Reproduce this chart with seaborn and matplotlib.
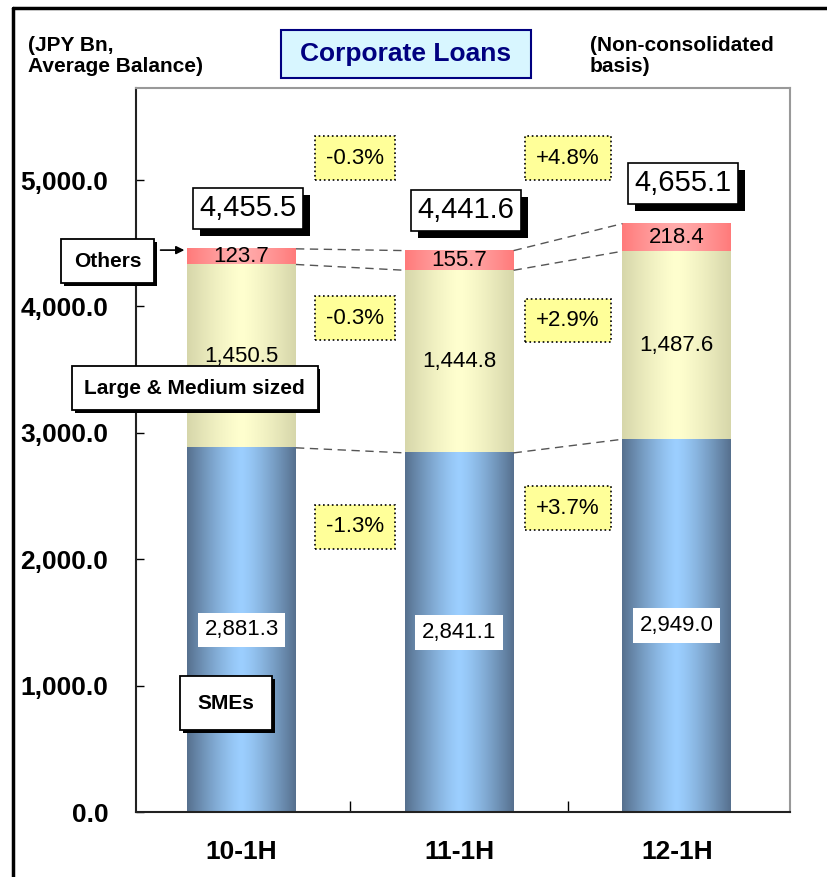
import numpy as np
import pandas as pd
import matplotlib.pyplot as plt
import seaborn as sns
from matplotlib.lines import Line2D
from matplotlib.patches import Rectangle
import matplotlib.patheffects as pe

# --- data ---
periods = ['10-1H', '11-1H', '12-1H']
smes = [2881.3, 2841.1, 2949.0]
large_medium = [1450.5, 1444.8, 1487.6]
others = [123.7, 155.7, 218.4]
totals = [4455.5, 4441.6, 4655.1]
chg_total = ['-0.3%', '+4.8%']
chg_large = ['-0.3%', '+2.9%']
chg_smes = ['-1.3%', '+3.7%']
y_ticks = [0, 1000, 2000, 3000, 4000, 5000]

sns.set_theme(style='white')
plt.rcParams['font.family'] = ['Liberation Sans', 'DejaVu Sans']
plt.rcParams['text.color'] = 'black'
plt.rcParams['xtick.color'] = 'black'
plt.rcParams['ytick.color'] = 'black'

df = pd.DataFrame({'period': periods, 'smes': smes, 'large': large_medium, 'others': others})
df['top_large'] = df['smes'] + df['large']
df['top_all'] = df['top_large'] + df['others']

W, H = 827, 877
fig = plt.figure(figsize=(W / 100, H / 100), dpi=100)
ax = fig.add_axes([136 / W, 1 - 812 / H, 654 / W, 724 / H])


def fx(x):
    return x / W


def fy(y):
    return 1 - y / H


def hgrad(edge, mid, n=200):
    e = np.array(plt.matplotlib.colors.to_rgb(edge))
    m = np.array(plt.matplotlib.colors.to_rgb(mid))
    t = np.linspace(0, 1, n)
    w = 1 - np.abs(2 * t - 1) ** 1.3
    return (e[None, :] * (1 - w[:, None]) + m[None, :] * w[:, None])[None, :, :]


def shadow(txt, d):
    # drop shadow under the text's box
    txt.get_bbox_patch().set_path_effects([
        pe.SimplePatchShadow(offset=(d, -d), shadow_rgbFace='black', alpha=1.0), pe.Normal()])


# stacked bars drawn as cumulative layers, then shaded with a gradient
layers = [('top_all', '#ff7a7a', '#ffacac'),
          ('top_large', '#d6d6aa', '#ffffcf'),
          ('smes', '#56708e', '#9ccfff')]
for k, (col, edge, mid) in enumerate(layers):
    n0 = len(ax.patches)
    sns.barplot(data=df, x='period', y=col, color=mid, width=0.5, saturation=1,
                linewidth=0, ax=ax)
    img = hgrad(edge, mid)
    for p in ax.patches[n0:]:
        ax.imshow(img, extent=(p.get_x(), p.get_x() + p.get_width(), 0, p.get_height()),
                  aspect='auto', zorder=1.1 + k * 0.1, interpolation='bilinear')

ax.set_xlim(-0.485, 2.52)
ax.set_ylim(0, 5728)
ax.set_xlabel('')
ax.set_ylabel('')

# dashed connectors between bars
for levels in [df['top_all'], df['top_large'], df['smes']]:
    for i in range(2):
        ax.plot([i + 0.25, i + 0.75], [levels[i], levels[i + 1]], ls=(0, (6, 4)),
                color='#555555', lw=1, zorder=2)

# axes styling
ax.set_yticks(y_ticks)
ax.set_yticklabels([f'{v:,.1f}' for v in y_ticks], fontsize=19, fontweight='bold')
ax.tick_params(axis='y', direction='in', length=6, width=1, pad=20, left=True)
ax.set_xticks([0, 1, 2])
ax.set_xticklabels(periods, fontsize=19, fontweight='bold')
ax.tick_params(axis='x', which='major', length=0, pad=20)
ax.set_xticks([0.5, 1.5], minor=True)
ax.tick_params(axis='x', which='minor', direction='in', length=8, width=1, bottom=True)
for s in ['left', 'bottom']:
    ax.spines[s].set_color('#222222')
    ax.spines[s].set_linewidth(1.5)
for s in ['top', 'right']:
    ax.spines[s].set_color('#999999')
    ax.spines[s].set_linewidth(1.5)

# segment value labels
for i in range(3):
    ax.text(i, df['top_large'][i] + others[i] / 2, f'{others[i]:,.1f}', ha='center', va='center',
            fontsize=16, zorder=5)
    ax.text(i, smes[i] + large_medium[i] / 2, f'{large_medium[i]:,.1f}', ha='center', va='center',
            fontsize=16, zorder=5)
    ax.text(i, smes[i] / 2, f'{smes[i]:,.1f}', ha='center', va='center', fontsize=16, zorder=5,
            bbox=dict(boxstyle='square,pad=0.3', fc='white', ec='none'))

# total boxes with drop shadow
for i in range(3):
    t = ax.text(i + 0.03, totals[i] + 320, f'{totals[i]:,.1f}', ha='center', va='center',
                fontsize=21, zorder=6,
                bbox=dict(boxstyle='square,pad=0.22', fc='white', ec='black', lw=1.2))
    shadow(t, 5)

# percentage change boxes
chg_x = [0.52, 1.5]
rows = [(chg_total, [5174, 5174]), (chg_large, [3908, 3890]), (chg_smes, [2255, 2405])]
for labels, ys in rows:
    for j in range(2):
        ax.text(chg_x[j], ys[j], labels[j], ha='center', va='center', fontsize=16, zorder=6,
                bbox=dict(boxstyle='square,pad=0.5', fc='#ffff99', ec='black', lw=1.2, ls=':'))

# series name boxes
name_boxes = [(-0.615, 261, 'Others', 0.6), (-0.215, 388, 'Large & Medium sized', 0.6),
              (-0.07, 703, 'SMEs', 0.85)]
for x, ypix, label, pw in name_boxes:
    t = ax.text(x, (812 - ypix) / 0.12643, label, ha='center', va='center', fontsize=15,
                fontweight='bold', zorder=7, clip_on=False,
                bbox=dict(boxstyle=f'square,pad={pw}', fc='white', ec='black', lw=1.3))
    shadow(t, 2)
ax.annotate('', xy=(-0.25, totals[0] - 10), xytext=(-0.385, totals[0] - 10),
            arrowprops=dict(arrowstyle='-|>', color='black', lw=1.2), zorder=7,
            annotation_clip=False)

# header texts
fig.text(fx(28), fy(56), '(JPY Bn,\nAverage Balance)', ha='left', va='center', fontsize=15,
         fontweight='bold', linespacing=1.15)
fig.text(fx(590), fy(56), '(Non-consolidated\nbasis)', ha='left', va='center', fontsize=15,
         fontweight='bold', linespacing=1.15)
fig.add_artist(Rectangle((fx(281), fy(78)), fx(250), 48 / H, transform=fig.transFigure,
                         fc='#d8f6ff', ec='#000080', lw=1.5))
fig.text(fx(406), fy(54), 'Corporate Loans', ha='center', va='center', fontsize=19,
         fontweight='bold', color='#000080')

# outer frame of the slide
fig.add_artist(Line2D([fx(13), fx(13)], [fy(8), 0], color='black', lw=2.5))
fig.add_artist(Line2D([fx(13), 1], [fy(8), fy(8)], color='black', lw=2.5))

fig.savefig('out.png', dpi=100)
